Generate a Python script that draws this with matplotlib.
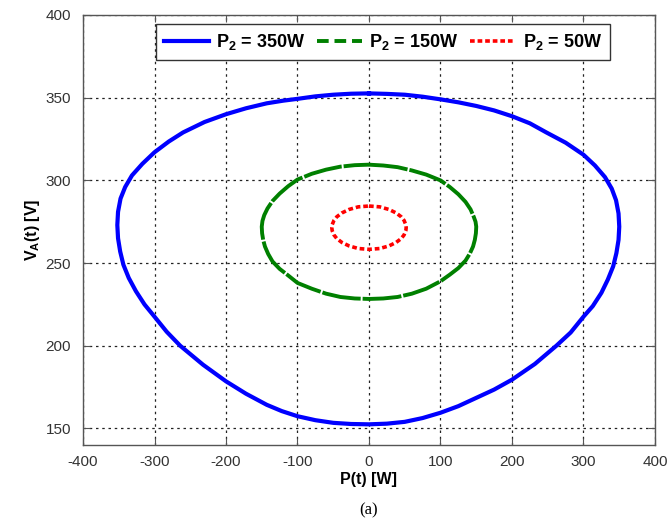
import matplotlib
matplotlib.use("Agg")
import matplotlib.pyplot as plt
from matplotlib.lines import Line2D

plt.rcParams['font.family'] = ['Liberation Sans', 'DejaVu Sans']
plt.rcParams['mathtext.default'] = 'regular'
plt.rcParams['axes.unicode_minus'] = False

# ---- data (P [W], V_A [V]) ----
blue_x = [0, 25, 50, 75, 100, 125, 150, 175, 200, 225, 248, 275, 300, 316, 330, 339.5, 345.5, 349, 350,
          349, 346, 341.5, 334, 325, 313, 300, 282, 262, 232, 200, 175, 150, 125, 100, 75, 50, 25, 0,
          -25, -50, -75, -100, -122, -143, -172, -200, -232, -264, -283, -300, -314, -326, -336, -343.5, -348, -351, -352,
          -351, -347.5, -341, -331.5, -317, -300, -280, -260, -230, -200, -172, -143, -120, -100, -75, -50, -25, 0]
blue_y = [352.6, 352.3, 351.8, 350.6, 349, 347.2, 345, 342.3, 338.8, 334.5, 329, 322.8, 315.5, 309, 302, 295, 288, 280, 272,
          264, 256, 248, 240, 232, 224, 217.6, 208, 200, 189, 179.5, 173.5, 168.5, 163.5, 159.5, 156.3, 154, 152.9, 152.5,
          152.7, 153.4, 155, 157.4, 160.5, 164.3, 171, 178.5, 188.5, 200, 208.5, 217.6, 225, 233, 241, 249, 257, 265, 273,
          281, 289, 296, 303, 310, 317, 323.5, 329, 335.3, 340, 343.6, 346.6, 348.2, 349.3, 350.8, 351.8, 352.4, 352.6]

green_x = [0, 20, 40, 60, 80, 100, 113, 125, 135, 142, 146.5, 149, 150, 149.5, 148, 145.5, 141, 135, 125, 113, 100, 80, 60, 40, 20, 0,
           -20, -40, -60, -80, -100, -113, -125, -135, -141, -145.5, -148, -149.5, -150, -149, -146.5, -142, -135, -125, -113, -100,
           -80, -60, -40, -20, 0]
green_y = [309.5, 309, 308, 306, 303.5, 300, 296, 291.6, 287, 282.5, 278, 275, 272, 268, 264, 260, 255.7, 251.5, 247, 243, 239, 234.5, 231.5, 229.5, 228.6, 228.3,
           228.6, 229.5, 231.5, 234.5, 238, 242.5, 246.5, 251, 255.5, 260, 264, 268, 272, 275.5, 279, 283, 287.5, 292, 296.5, 300.5,
           304, 306.5, 308.3, 309.2, 309.5]

red_x = [0, 15, 28, 38, 45, 49, 51.5, 52, 51.5, 49, 45, 38, 28, 15, 0,
         -15, -28, -38, -45, -49, -51.5, -52, -51.5, -49, -45, -38, -28, -15, 0]
red_y = [284.5, 284, 282.4, 280.3, 278, 275.8, 273.2, 271.4, 269.6, 267, 264.8, 262.5, 260.4, 258.8, 258.3,
         258.8, 260.4, 262.5, 264.8, 267, 269.6, 271.4, 273.2, 275.8, 278, 280.3, 282.4, 284, 284.5]

labels = ['P$_2$ = 350W', 'P$_2$ = 150W', 'P$_2$ = 50W']
x_ticks = [-400, -300, -200, -100, 0, 100, 200, 300, 400]
y_ticks = [150, 200, 250, 300, 350, 400]

fig = plt.figure(figsize=(6.71, 5.27), dpi=100)
ax = fig.add_axes([83/671, 82/527, 572/671, 430/527])

ax.plot(blue_x, blue_y, color='#0000ff', lw=3.0, solid_joinstyle='round', zorder=3)
ax.plot(green_x, green_y, color='#008000', lw=2.8, linestyle=(0, (10, 0.5)), zorder=3)
ax.plot(red_x, red_y, color='#ff0000', lw=2.6, linestyle=(0, (1.3, 0.8)), zorder=3)

ax.set_xlim(-400, 400)
ax.set_ylim(140, 400)
ax.set_xticks(x_ticks)
ax.set_yticks(y_ticks)
ax.grid(True, color='#222222', linestyle=(0, (2, 3)), lw=0.9)
ax.set_axisbelow(True)
ax.tick_params(direction='in', length=5, width=0.8, top=True, right=True,
               labelsize=11, labelcolor='#333333', color='#555555')
ax.tick_params(axis='x', pad=7.5)
ax.tick_params(axis='y', pad=8.5)
for s in ax.spines.values():
    s.set_color('#555555')
    s.set_linewidth(1.0)

ax.set_xlabel('P(t) [W]', fontsize=11.5, fontweight='bold', labelpad=2)
ax.set_ylabel('V$_A$(t) [V]', fontsize=11.5, fontweight='bold', labelpad=3)

handles = [Line2D([], [], color='#0000ff', lw=3.0),
           Line2D([], [], color='#008000', lw=2.8, linestyle=(0, (3, 1.5))),
           Line2D([], [], color='#ff0000', lw=2.6, linestyle=(0, (1.3, 0.8)))]
leg = ax.legend(handles, labels, loc='upper center', bbox_to_anchor=(0.524, 0.979), ncol=3,
                prop={'weight': 'bold', 'size': 13}, frameon=True, fancybox=False,
                edgecolor='#333333', handlelength=2.5, handletextpad=0.4, columnspacing=0.65,
                borderpad=0.45, borderaxespad=0.0)
leg.get_frame().set_linewidth(1.0)
leg.get_frame().set_alpha(1)

fig.text(369/671, 1 - 510/527, '(a)', ha='center', va='center', fontsize=12,
         family=['Liberation Serif', 'DejaVu Serif'])

fig.savefig('out.png', dpi=100)
